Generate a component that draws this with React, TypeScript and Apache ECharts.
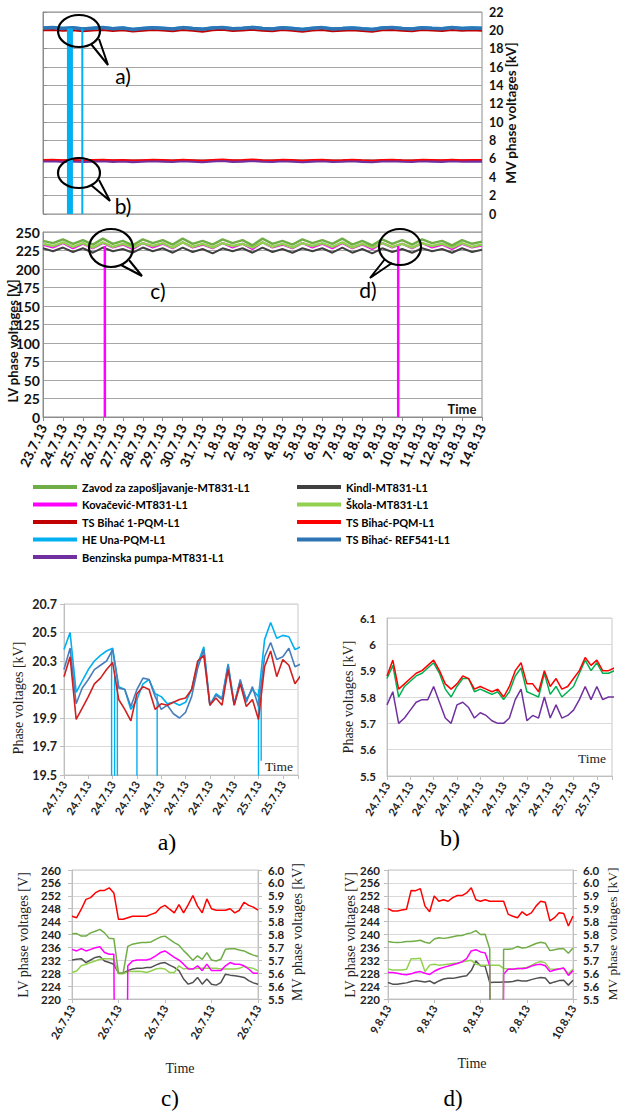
import React, { useEffect, useRef } from 'react';
import * as echarts from 'echarts';

// ---------- tick labels ----------
const mainDayLabels = ['23.7.13','24.7.13','25.7.13','26.7.13','27.7.13','28.7.13','29.7.13','30.7.13','31.7.13','1.8.13','2.8.13','3.8.13','4.8.13','5.8.13','6.8.13','7.8.13','8.8.13','9.8.13','10.8.13','11.8.13','12.8.13','13.8.13','14.8.13'];
const abTickLabels = ['24.7.13','24.7.13','24.7.13','24.7.13','24.7.13','24.7.13','24.7.13','24.7.13','25.7.13','25.7.13'];
const cTickLabels = ['26.7.13','26.7.13','26.7.13','26.7.13','26.7.13'];
const dTickLabels = ['9.8.13','9.8.13','9.8.13','9.8.13','10.8.13'];
const mvTickLabels = ['5.5','5.6','5.6','5.7','5.7','5.8','5.8','5.9','5.9','6.0','6.0'];

// ---------- series names ----------
const N_ZAVOD = 'Zavod za zapošljavanje-MT831-L1';
const N_KINDL = 'Kindl-MT831-L1';
const N_KOVAC = 'Kovačević-MT831-L1';
const N_SKOLA = 'Škola-MT831-L1';
const N_BIHAC1 = 'TS Bihać 1-PQM-L1';
const N_BIHACPQM = 'TS Bihać-PQM-L1';
const N_HEUNA = 'HE Una-PQM-L1';
const N_REF = 'TS Bihać- REF541-L1';
const N_BENZ = 'Benzinska pumpa-MT831-L1';

// ---------- main overview (half-day samples, 23.7 -> 14.8) ----------
const mainStepDays = 0.5;
const mainRef541 = [20.25,20.30,20.20,20.28,20.15,20.22,20.30,20.18,20.25,20.10,20.20,20.28,20.22,20.15,20.30,20.20,20.12,20.25,20.30,20.18,20.22,20.32,20.20,20.15,20.28,20.20,20.10,20.22,20.30,20.15,20.20,20.27,20.18,20.10,20.25,20.30,20.20,20.15,20.28,20.22,20.18,20.30,20.20,20.25,20.22];
const mainBihac1 = [20.00,20.05,19.95,20.02,19.90,19.98,20.05,19.92,20.00,19.88,19.97,20.04,19.98,19.90,20.05,19.95,19.86,20.00,20.06,19.93,19.98,20.07,19.95,19.90,20.03,19.96,19.85,19.98,20.05,19.90,19.96,20.02,19.94,19.86,20.00,20.05,19.96,19.90,20.03,19.98,19.92,20.05,19.96,20.00,19.97];
const mainHeUna = [20.30,20.35,20.25,20.32,20.20,20.28,20.35,20.22,20.30,20.15,20.25,20.33,20.27,20.20,20.35,20.25,20.17,20.30,20.35,20.23,20.27,20.37,20.25,20.20,20.33,20.25,20.15,20.27,20.35,20.20,20.25,20.32,20.23,20.15,20.30,20.35,20.25,20.20,20.33,20.27,20.23,20.35,20.25,20.30,20.27];
const mainBihacPqm = [5.90,5.93,5.88,5.92,5.86,5.90,5.94,5.87,5.91,5.85,5.89,5.93,5.90,5.86,5.94,5.89,5.84,5.91,5.95,5.87,5.90,5.96,5.89,5.86,5.93,5.90,5.84,5.90,5.94,5.86,5.89,5.93,5.88,5.84,5.91,5.94,5.89,5.86,5.93,5.90,5.87,5.94,5.89,5.92,5.90];
const mainBenz = [5.76,5.80,5.73,5.78,5.71,5.75,5.81,5.72,5.77,5.70,5.74,5.79,5.75,5.71,5.80,5.74,5.69,5.76,5.82,5.72,5.75,5.82,5.74,5.71,5.79,5.75,5.69,5.75,5.80,5.71,5.74,5.79,5.73,5.69,5.77,5.80,5.74,5.71,5.79,5.75,5.72,5.80,5.74,5.77,5.75];
const mainZavod = [238,235,240,234,239,233,241,234,238,232,240,235,239,233,241,234,238,233,240,235,239,232,241,234,238,233,240,235,239,234,241,233,238,232,240,234,239,233,240,235,238,232,239,234,237];
const mainSkola = [234,231,236,230,235,229,236,230,234,229,235,231,235,229,236,230,234,229,235,231,234,229,236,230,234,229,235,231,235,230,236,229,234,229,235,230,234,229,235,231,234,229,235,230,233];
const mainKovacevic = [233,229,235,228,234,228,235,229,233,227,235,229,234,228,236,229,233,228,235,229,234,227,236,229,233,228,235,229,234,228,235,228,233,227,235,229,234,228,235,229,233,227,234,229,232];
const mainKindl = [228,224,229,223,228,222,229,224,227,222,229,224,228,222,229,223,227,221,228,224,228,222,229,223,227,222,228,224,228,222,229,222,227,221,228,223,227,222,228,224,227,222,228,223,226];
// outages (day offset from 23.7.13, level before the drop)
const heUnaDropDays = [1.35, 1.97];
const heUnaDropTop = [20.2, 20.2];
const kovacevicDropDays = [3.1, 17.8];
const kovacevicDropTop = [231, 231];

// ---------- a) 24.7 - 25.7, MV 20 kV ----------
const aHeUna = [20.38,20.50,20.08,20.16,20.24,20.30,20.34,20.37,20.39,20.12,20.10,19.96,20.03,20.14,20.17,20.07,20.05,20.00,20.01,19.99,20.01,20.10,20.28,20.40,19.99,20.07,20.04,20.28,20.00,20.16,20.03,20.10,20.05,20.45,20.57,20.46,20.48,20.47,20.38,20.40];
const aRef541 = [20.24,20.39,20.00,20.11,20.17,20.24,20.27,20.30,20.38,20.11,20.10,19.98,20.10,20.18,20.17,20.05,19.96,19.99,19.93,19.90,19.94,20.05,20.25,20.38,19.99,20.06,20.03,20.27,19.99,20.17,20.01,20.12,19.98,20.33,20.43,20.31,20.33,20.39,20.26,20.28];
const aBihac1 = [20.19,20.33,19.89,19.97,20.05,20.14,20.18,20.24,20.29,20.03,19.96,19.88,20.07,20.12,20.10,19.96,20.00,19.99,20.01,20.03,20.04,20.10,20.30,20.34,19.99,20.04,19.99,20.24,19.99,20.14,19.98,20.03,19.89,20.26,20.37,20.19,20.31,20.27,20.14,20.20];
const aDropIdx = [7.83, 8.33, 8.78, 12.0, 15.33, 32.0, 32.44];
const aDropTop = [20.38, 20.2, 20.15, 20.03, 20.07, 20.1, 20.05];
const aDropBottom = [19.4, 19.4, 19.4, 19.4, 19.4, 19.4, 19.6];

// ---------- b) 24.7 - 25.7, MV 6 kV ----------
const bRed = [5.88,5.94,5.83,5.85,5.87,5.89,5.90,5.92,5.94,5.90,5.85,5.83,5.85,5.88,5.87,5.83,5.84,5.83,5.82,5.83,5.80,5.84,5.90,5.93,5.85,5.85,5.82,5.90,5.84,5.87,5.83,5.84,5.87,5.90,5.95,5.92,5.94,5.90,5.90,5.91];
const bGreen = [5.87,5.92,5.80,5.84,5.86,5.88,5.89,5.91,5.93,5.89,5.83,5.80,5.84,5.87,5.87,5.82,5.83,5.82,5.81,5.82,5.79,5.82,5.88,5.91,5.82,5.81,5.80,5.89,5.81,5.84,5.80,5.82,5.84,5.89,5.94,5.90,5.93,5.89,5.89,5.90];
const bPurple = [5.77,5.82,5.70,5.72,5.75,5.78,5.79,5.79,5.84,5.78,5.72,5.70,5.77,5.78,5.76,5.72,5.74,5.73,5.71,5.70,5.70,5.72,5.79,5.83,5.71,5.73,5.72,5.80,5.72,5.77,5.72,5.73,5.75,5.79,5.84,5.79,5.84,5.79,5.80,5.80];

// ---------- c) 26.7 ----------
const cRedMV = [5.821,5.815,5.848,5.886,5.893,5.911,5.921,5.921,5.931,5.911,5.809,5.809,5.815,5.821,5.821,5.821,5.821,5.828,5.834,5.854,5.863,5.848,5.834,5.866,5.834,5.866,5.901,5.86,5.834,5.888,5.85,5.844,5.844,5.844,5.85,5.834,5.844,5.875,5.863,5.856,5.844];
const cZavod = [240.2,240.3,239.5,239.5,240.5,241,241.6,240.5,238.8,238.7,228,228,236.3,237,237.3,237.5,237.5,237.7,238.5,239.2,239.5,238.5,237.5,236.7,235,233.6,232,233.4,232.3,234.4,232.1,231.8,232.3,235.4,235.6,235.6,235.2,234.9,234.2,233.6,233.2];
const cKovacevic = [235.4,234.9,235.6,234.9,235.4,235.9,236.2,234.4,233.9,233.9,0,0,230.3,231.8,232.1,232.1,232.1,232.5,233.4,234.4,234.9,233.9,232.9,232.1,230.8,229.3,229.3,230.3,228.8,230.8,228.8,228.8,228.8,230.3,231.3,230.8,230.8,230.3,229.3,228,228];
const cKindl = [232.1,232.3,232.5,231.3,232.1,232.9,233.2,231.8,231.3,230.8,228,228,228.8,229.3,229.5,229.5,229.8,229.8,230.5,231.1,231.3,230.5,229.8,228.8,226.2,224.6,225.1,226.7,224.6,226.2,224.6,224.3,225.1,227.7,227.4,227.2,227,226.7,225.7,225,224.6];
const cSkola = [228.2,228.7,230.3,230.8,231.3,231.8,232.3,232.5,232.5,232.3,227.8,227.8,228.5,228.5,228.6,228.5,228.2,228.7,229.3,229.5,229.3,228.2,228.2,230.3,229.3,229.5,229.3,229.5,229.5,229.5,229.5,229.5,229.3,229.3,229.3,229.3,229.5,230.1,229.8,229.5,228.7];

// ---------- d) 9.8 - 10.8 ----------
const dRedMV = [5.85,5.841,5.841,5.845,5.848,5.921,5.92,5.928,5.86,5.838,5.899,5.879,5.885,5.879,5.893,5.901,5.901,5.911,5.931,5.885,5.879,5.885,5.879,5.879,5.879,5.879,5.828,5.821,5.815,5.838,5.824,5.834,5.86,5.879,5.875,5.803,5.815,5.834,5.831,5.783,5.821];
const dZavod = [237.8,237.6,237.5,237.6,237.8,237.8,238,238.2,237.6,237.3,238.6,239,238.8,239,239.3,239.6,239.7,240.2,240.5,241.2,240,240.1,235.5,0,0,235.4,235.4,235.6,236.3,235.8,236,236.6,237.2,237.6,237.3,235,235.3,235.6,235.6,234.2,235.8];
const dSkola = [229.3,229,229,229,229.2,232.5,232.5,232.6,228.5,230.5,230.8,230.5,230.6,230.8,231,231.2,231.5,231.8,232,230.8,230.5,230.5,230.5,230.5,230.5,229.5,229.2,229.3,229.3,229.6,229.8,230.4,231.2,231.6,231.2,229.3,229.2,229.4,229.5,227.8,229.3];
const dKovacevic = [228.2,228.2,228,227.7,227.5,227.8,228.3,228.5,228,227.6,228.6,229.3,229.8,230.2,230.6,231,231.5,232.5,234.9,235.3,234.6,234.3,230.3,0,0,227.7,229.3,229.2,229.5,229.4,229.6,230.2,230.6,230.8,230.3,228.5,229,229.3,229.6,227.3,228.8];
const dKindl = [225.1,224.6,224.6,224.8,225,225.4,225.7,225.5,225.3,225.6,224.8,225.6,226.2,226.4,226.4,226.7,227,227.2,228.8,231.8,230.3,230.2,225.1,225.2,225.2,225.3,225.3,225.4,225.8,225.6,225.6,226,226.4,226.7,226.5,224.8,225.3,225.7,225.8,224.3,225.8];

// ---------- styling ----------
const SANS = 'Lato, "Liberation Sans", sans-serif';
const SERIF = '"Liberation Serif", "Times New Roman", serif';
const C = {
  zavod: '#70AD47', kindl: '#404040', kovac: '#FF00FF', skola: '#92D050',
  bihac1: '#C00000', bihacPqm: '#FF0000', heUna: '#00B0F0', ref: '#2E75B6',
  benz: '#7030A0', bGreen: '#00B050',
};

const idxPairs = (vals: number[]) => vals.map((v, i) => [i, v]);
const dayPairs = (vals: number[]) => vals.map((v, i) => [i * mainStepDays, v]);

function line(name: string, color: string, width: number, axis: number, yAxis: number, data: any[], z = 2) {
  return {
    type: 'line', name, xAxisIndex: axis, yAxisIndex: yAxis, data, color,
    showSymbol: false, symbol: 'none', z, silent: true, clip: true,
    lineStyle: { color, width }, itemStyle: { color },
  };
}

function subX(grid: number, max: number, interval: number, labels: string[], rotate: number) {
  return {
    gridIndex: grid, type: 'value', min: 0, max, interval,
    axisLine: { show: true, lineStyle: { color: '#bfbfbf' } },
    axisTick: { show: true, length: 4, lineStyle: { color: '#bfbfbf' } },
    splitLine: { show: false },
    axisLabel: {
      rotate, margin: 7, fontFamily: SANS, fontWeight: 'bold', fontSize: 11, color: '#222',
      formatter: (v: number) => {
        const k = Math.round(v / interval);
        return Math.abs(v - k * interval) < 1e-6 && labels[k] !== undefined ? labels[k] : '';
      },
    },
  };
}

function subY(grid: number, min: number, max: number, interval: number, opts: any = {}) {
  return {
    gridIndex: grid, type: 'value', min, max, interval, position: opts.position || 'left',
    axisLine: { show: true, lineStyle: { color: '#bfbfbf' } },
    axisTick: { show: opts.tick !== false, length: 4, lineStyle: { color: '#bfbfbf' } },
    splitLine: { show: opts.split !== false, lineStyle: { color: '#d9d9d9' } },
    axisLabel: {
      margin: opts.margin ?? 8, fontFamily: SANS, fontWeight: 'bold', fontSize: opts.fontSize ?? 11, color: '#222',
      formatter: opts.formatter,
    },
  };
}

function txt(text: string, x: number, y: number, size: number, family: string, weight = 'normal', rot = 0, color = '#000') {
  return {
    type: 'text', x, y, rotation: rot, z: 100, silent: true,
    style: { text, fill: color, fontSize: size, fontFamily: family, fontWeight: weight, align: 'center', verticalAlign: 'middle' },
  };
}

function bubble(cx: number, cy: number, rx: number, ry: number, tail: number[][]) {
  return [
    { type: 'ellipse', z: 100, silent: true, shape: { cx, cy, rx, ry }, style: { fill: 'none', stroke: '#000', lineWidth: 2.2 } },
    { type: 'polyline', z: 100, silent: true, shape: { points: tail }, style: { fill: 'none', stroke: '#000', lineWidth: 2 } },
  ];
}

function buildOption() {
  const gridBase = { show: true, borderWidth: 1, backgroundColor: 'transparent', containLabel: false, outerBoundsMode: 'none' };
  const grid = [
    { ...gridBase, left: 43, top: 12, width: 439, height: 202, borderColor: '#8c8c8c' },
    { ...gridBase, left: 43, top: 232, width: 439, height: 185, borderColor: '#8c8c8c' },
    { ...gridBase, left: 64, top: 604, width: 234, height: 171, borderColor: '#c8c8c8' },
    { ...gridBase, left: 387, top: 618, width: 225, height: 158, borderColor: '#c8c8c8' },
    { ...gridBase, left: 72, top: 870, width: 186, height: 129, borderColor: '#c8c8c8' },
    { ...gridBase, left: 388, top: 870, width: 185, height: 129, borderColor: '#c8c8c8' },
  ];

  const xAxis = [
    { gridIndex: 0, type: 'value', min: 0, max: 22, interval: 1, show: false, splitLine: { show: false } },
    {
      gridIndex: 1, type: 'value', min: 0, max: 22, interval: 1,
      axisLine: { show: true, lineStyle: { color: '#8c8c8c' } },
      axisTick: { show: true, length: 4, lineStyle: { color: '#8c8c8c' } },
      splitLine: { show: false },
      axisLabel: {
        rotate: 65, margin: 8, fontFamily: SANS, fontWeight: 'bold', fontSize: 13.5, color: '#111',
        formatter: (v: number) => mainDayLabels[Math.round(v)] ?? '',
      },
    },
    subX(2, 38.5, 4, abTickLabels, 58),
    subX(3, 38.6, 4, abTickLabels, 58),
    subX(4, 40, 10, cTickLabels, 60),
    subX(5, 40, 10, dTickLabels, 60),
  ];

  const yAxis = [
    {
      gridIndex: 0, type: 'value', min: 0, max: 22, interval: 2, position: 'right',
      axisLine: { show: true, lineStyle: { color: '#8c8c8c' } },
      axisTick: { show: true, length: 4, lineStyle: { color: '#8c8c8c' } },
      splitLine: { show: true, lineStyle: { color: '#a6a6a6' } },
      axisLabel: { margin: 7, fontFamily: SANS, fontWeight: 'bold', fontSize: 12.5, color: '#111' },
    },
    {
      gridIndex: 1, type: 'value', min: 0, max: 250, interval: 25,
      axisLine: { show: true, lineStyle: { color: '#8c8c8c' } },
      axisTick: { show: false },
      splitLine: { show: true, lineStyle: { color: '#a6a6a6' } },
      axisLabel: { margin: 3, fontFamily: SANS, fontWeight: 'bold', fontSize: 14, color: '#111' },
    },
    subY(2, 19.5, 20.7, 0.2, { fontSize: 12.5, margin: 7, formatter: (v: number) => v.toFixed(1) }),
    subY(3, 5.5, 6.1, 0.1, { fontSize: 11.5, margin: 11, tick: false }),
    subY(4, 220, 260, 4, { fontSize: 11.5, margin: 11 }),
    subY(4, 5.5, 6.0, 0.05, { position: 'right', split: false, fontSize: 11.5, margin: 10,
      formatter: (v: number) => mvTickLabels[Math.round((v - 5.5) / 0.05)] ?? '' }),
    subY(5, 220, 260, 4, { fontSize: 11.5, margin: 8 }),
    subY(5, 5.5, 6.0, 0.05, { position: 'right', split: false, fontSize: 11.5, margin: 10,
      formatter: (v: number) => mvTickLabels[Math.round((v - 5.5) / 0.05)] ?? '' }),
  ];

  const series: any[] = [
    // main MV
    line(N_BIHAC1, C.bihac1, 2, 0, 0, dayPairs(mainBihac1)),
    line(N_HEUNA, C.heUna, 2.5, 0, 0, dayPairs(mainHeUna)),
    line(N_REF, C.ref, 3.5, 0, 0, dayPairs(mainRef541)),
    line(N_BENZ, C.benz, 3, 0, 0, dayPairs(mainBenz)),
    line(N_BIHACPQM, C.bihacPqm, 1.5, 0, 0, dayPairs(mainBihacPqm)),
    ...heUnaDropDays.map((d, i) =>
      line(N_HEUNA, C.heUna, i === 0 ? 6 : 2, 0, 0, [[d, heUnaDropTop[i]], [d, 0]], 3)),
    // main LV
    line(N_KINDL, C.kindl, 2, 1, 1, dayPairs(mainKindl)),
    line(N_KOVAC, C.kovac, 2.2, 1, 1, dayPairs(mainKovacevic)),
    line(N_SKOLA, C.skola, 2.5, 1, 1, dayPairs(mainSkola)),
    line(N_ZAVOD, C.zavod, 2.5, 1, 1, dayPairs(mainZavod)),
    ...kovacevicDropDays.map((d, i) =>
      line(N_KOVAC, C.kovac, 2.5, 1, 1, [[d, kovacevicDropTop[i]], [d, 0]], 3)),
    // a)
    line(N_HEUNA, C.heUna, 1.6, 2, 2, idxPairs(aHeUna)),
    ...aDropIdx.map((d, i) => line(N_HEUNA, C.heUna, 1.4, 2, 2, [[d, aDropTop[i]], [d, aDropBottom[i]]])),
    line(N_REF, '#4A7EBB', 1.6, 2, 2, idxPairs(aRef541)),
    line(N_BIHAC1, '#D02020', 1.6, 2, 2, idxPairs(aBihac1)),
    // b)
    line(N_BENZ, C.benz, 1.5, 3, 3, idxPairs(bPurple)),
    line('b-green', C.bGreen, 1.5, 3, 3, idxPairs(bGreen)),
    line(N_BIHACPQM, C.bihacPqm, 1.5, 3, 3, idxPairs(bRed)),
    // c)
    line(N_KINDL, '#505050', 1.5, 4, 4, idxPairs(cKindl)),
    line(N_SKOLA, C.skola, 1.5, 4, 4, idxPairs(cSkola)),
    line(N_KOVAC, C.kovac, 1.5, 4, 4, idxPairs(cKovacevic)),
    line(N_ZAVOD, C.zavod, 1.5, 4, 4, idxPairs(cZavod)),
    line(N_BIHACPQM, C.bihacPqm, 1.5, 4, 5, idxPairs(cRedMV)),
    // d)
    line(N_KINDL, '#505050', 1.5, 5, 6, idxPairs(dKindl)),
    line(N_SKOLA, C.skola, 1.5, 5, 6, idxPairs(dSkola)),
    line(N_KOVAC, C.kovac, 1.5, 5, 6, idxPairs(dKovacevic)),
    line(N_ZAVOD, C.zavod, 1.5, 5, 6, idxPairs(dZavod)),
    line(N_BIHACPQM, C.bihacPqm, 1.5, 5, 7, idxPairs(dRedMV)),
  ];

  const legendText = { fontFamily: SANS, fontWeight: 'bold', fontSize: 11, color: '#000', lineHeight: 14 };
  const legendBase = {
    orient: 'vertical', itemWidth: 44, itemHeight: 4, itemGap: 3.5, icon: 'rect',
    selectedMode: false, padding: 0, textStyle: legendText,
  };
  const legend = [
    { ...legendBase, left: 33, top: 480, data: [N_ZAVOD, N_KOVAC, N_BIHAC1, N_HEUNA, N_BENZ] },
    { ...legendBase, left: 297, top: 480, data: [N_KINDL, N_SKOLA, N_BIHACPQM, N_REF] },
  ];

  const R = Math.PI / 2;
  const graphic: any[] = [
    { type: 'line', z: 1, silent: true, shape: { x1: 482, y1: 214, x2: 482, y2: 232 }, style: { stroke: '#8c8c8c', lineWidth: 1 } },
    txt('LV phase voltages [V]', 13, 341, 13, SANS, 'bold', R, '#111'),
    txt('MV phase voltages [kV]', 511, 113, 13.5, SANS, 'bold', R, '#111'),
    txt('Time', 462, 409, 13, SANS, 'bold', 0, '#111'),
    txt('Phase voltages [kV]', 18, 698, 14, SERIF, 'normal', R, '#222'),
    txt('Time', 279, 766, 13.5, SERIF, 'normal', 0, '#222'),
    txt('Phase voltages [kV]', 348, 697, 14, SERIF, 'normal', R, '#222'),
    txt('Time', 592, 758, 13.5, SERIF, 'normal', 0, '#222'),
    txt('LV phase voltages [V]', 23, 935, 14, SERIF, 'normal', R, '#222'),
    txt('MV phase voltages [kV]', 297, 932, 14, SERIF, 'normal', R, '#222'),
    txt('Time', 180, 1068, 14, SERIF, 'normal', 0, '#222'),
    txt('LV phase voltages [V]', 350, 935, 14, SERIF, 'normal', R, '#222'),
    txt('MV phase voltages [kV]', 612, 934, 13.5, SERIF, 'normal', R, '#222'),
    txt('Time', 472, 1063, 14, SERIF, 'normal', 0, '#222'),
    txt('a)', 167, 842, 24, SERIF),
    txt('b)', 450, 838, 24, SERIF),
    txt('c)', 170, 1098, 23, SERIF),
    txt('d)', 453, 1098, 23, SERIF),
    ...bubble(79, 31, 21, 16, [[91, 44], [108, 65], [99, 39]]),
    txt('a)', 123, 75, 21, SANS),
    ...bubble(79, 173, 21, 15, [[91, 185], [110, 201], [99, 180]]),
    txt('b)', 123, 205, 21, SANS),
    ...bubble(111, 248, 22, 19, [[121, 265], [142, 276], [129, 260]]),
    txt('c)', 158, 290, 21, SANS),
    ...bubble(400, 247, 21, 18, [[392, 263], [370, 278], [385, 259]]),
    txt('d)', 368, 289, 21, SANS),
  ];

  return {
    animation: false,
    backgroundColor: '#ffffff',
    textStyle: { fontFamily: SANS },
    grid, xAxis, yAxis, series, legend, graphic,
  };
}

export default function App() {
  const ref = useRef<HTMLDivElement>(null);
  useEffect(() => {
    if (!ref.current) return;
    const chart = echarts.init(ref.current, null, { renderer: 'svg', width: 621, height: 1113 });
    chart.setOption(buildOption() as any);
    return () => chart.dispose();
  }, []);
  return (
    <div
      ref={ref}
      style={{ position: 'absolute', left: 0, top: 0, width: 621, height: 1113, background: '#fff' }}
    />
  );
}
